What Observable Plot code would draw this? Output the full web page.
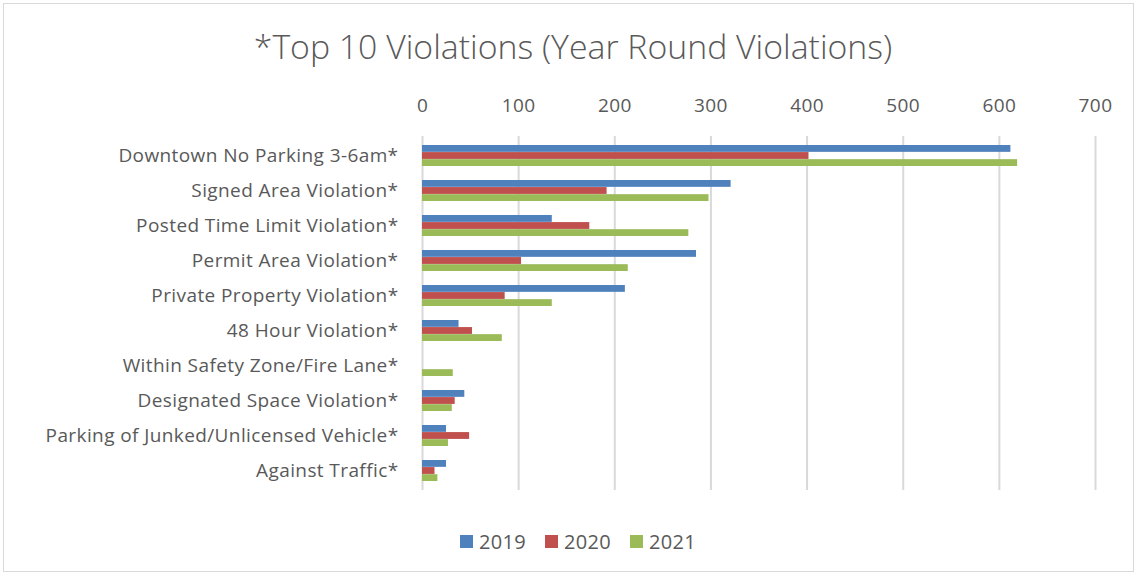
<!DOCTYPE html>
<html>
<head>
<meta charset="utf-8">
<script src="https://cdn.jsdelivr.net/npm/d3@7"></script>
<script src="https://cdn.jsdelivr.net/npm/@observablehq/plot@0.6"></script>
<style>
  html, body { margin: 0; padding: 0; background: #fff; }
  #frame { position: absolute; left: 3px; top: 3px; width: 1131px; height: 569px; border: 1px solid #d9d9d9; box-sizing: border-box; }
  #wrap { position: absolute; left: 0; top: 0; width: 1138px; height: 577px; font-family: "Open Sans", Lato, sans-serif; color: #595959; }
  #title { position: absolute; left: 0; top: 0; width: 1138px; text-align: center; font-size: 33.8px; font-weight: 300; line-height: 1; padding-top: 30px; padding-left: 8px; box-sizing: border-box; white-space: nowrap; }
  #chart { position: absolute; left: 0; top: 79px; }
  #legend { position: absolute; left: 0; top: 528px; width: 1138px; display: flex; justify-content: center; gap: 19px; font-size: 20px; padding-left: 18px; box-sizing: border-box; letter-spacing: 0.3px; }
  .item { display: flex; align-items: center; gap: 6px; }
  .sw { width: 13px; height: 13px; display: inline-block; }
</style>
</head>
<body>
<div id="wrap">
  <div id="frame"></div>
  <div id="title"></div>
  <div id="chart"></div>
  <div id="legend"></div>
</div>
<script>
const titleText = "*Top 10 Violations (Year Round Violations)";
const categories = [
  "Downtown No Parking 3-6am*",
  "Signed Area Violation*",
  "Posted Time Limit Violation*",
  "Permit Area Violation*",
  "Private Property Violation*",
  "48 Hour Violation*",
  "Within Safety Zone/Fire Lane*",
  "Designated Space Violation*",
  "Parking of Junked/Unlicensed Vehicle*",
  "Against Traffic*"
];
const years = ["2019", "2020", "2021"];
const v2019 = [612, 321, 135, 285, 211, 38, 0, 44, 25, 25];
const v2020 = [402, 192, 174, 103, 86, 52, 0, 34, 49, 13];
const v2021 = [619, 298, 277, 214, 135, 83, 32, 31, 27, 16];
const xTicks = [0, 100, 200, 300, 400, 500, 600, 700];
const colors = ["#4F81BD", "#C0504D", "#9BBB59"];

const series = [v2019, v2020, v2021];
const rows = years.map((yr, j) => categories.map((c, i) => ({category: c, year: yr, value: series[j][i]})));

const barH = 7.08;

document.getElementById("title").textContent = titleText;

const chart = Plot.plot({
  width: 1138,
  height: 421,
  marginTop: 57,
  marginBottom: 10,
  marginLeft: 422,
  marginRight: 43,
  style: {fontFamily: "'Open Sans', Lato, sans-serif", fontSize: "19px", color: "#595959", background: "transparent", letterSpacing: "0.4px"},
  x: {domain: [0, 700], ticks: xTicks, axis: "top", tickSize: 0, tickPadding: 25, label: null},
  y: {domain: categories, paddingInner: 0.4, paddingOuter: 0.2, tickSize: 0, tickPadding: 24, label: null},
  marks: [
    Plot.ruleX(xTicks, {stroke: "#d9d9d9", strokeWidth: 2}),
    ...rows.map((data, j) => Plot.barX(data, {
      x: "value",
      y: "category",
      fill: colors[j],
      insetTop: j * barH,
      insetBottom: (2 - j) * barH
    }))
  ]
});
document.getElementById("chart").appendChild(chart);

const legend = document.getElementById("legend");
years.forEach((yr, j) => {
  const item = document.createElement("div");
  item.className = "item";
  const sw = document.createElement("span");
  sw.className = "sw";
  sw.style.background = colors[j];
  const t = document.createElement("span");
  t.textContent = yr;
  item.appendChild(sw);
  item.appendChild(t);
  legend.appendChild(item);
});
</script>
</body>
</html>
